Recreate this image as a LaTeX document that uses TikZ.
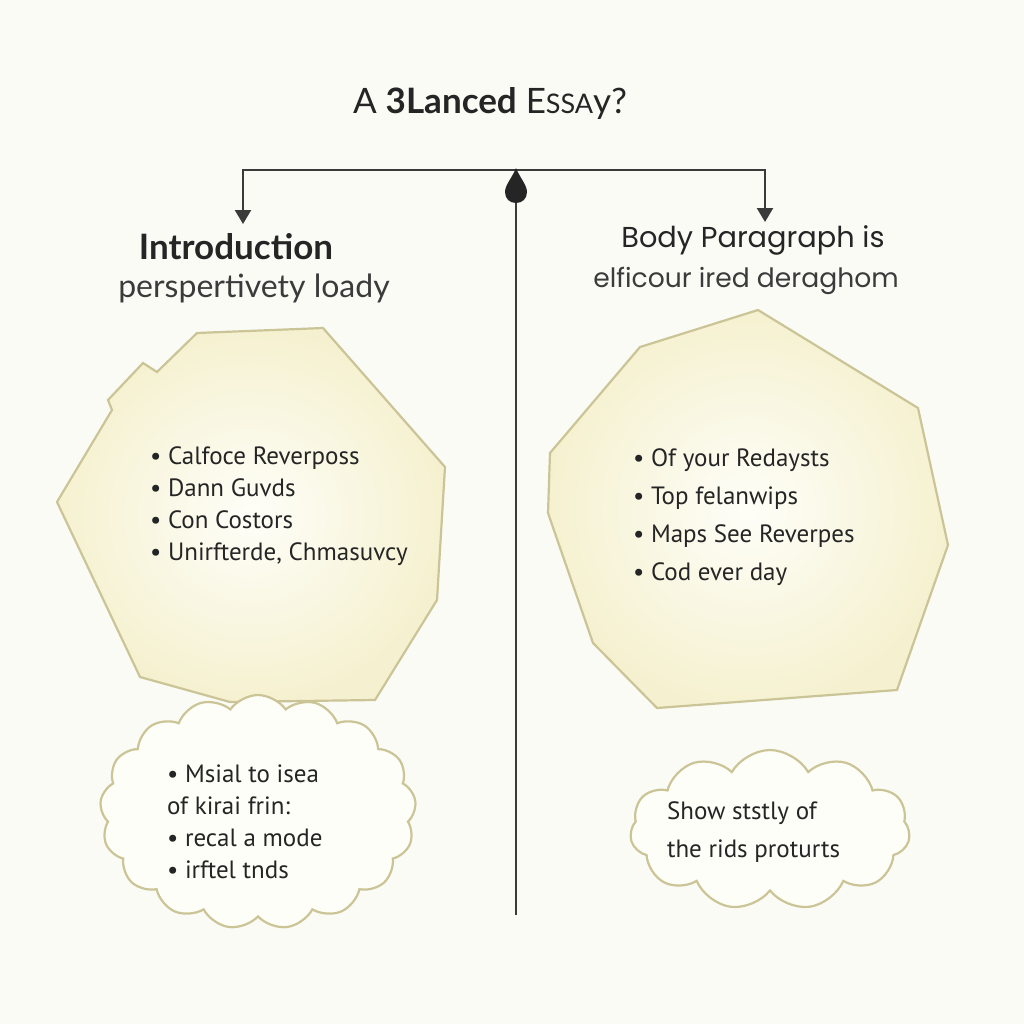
\documentclass[tikz,border=0pt]{standalone}
\usepackage{fontspec}
\setmainfont{Lato}
\newfontfamily\popf{Poppins}
\newfontfamily\handf{PT Sans}
\usetikzlibrary{arrows.meta,shapes.symbols}
\definecolor{bgc}{HTML}{FBFBF6}
\definecolor{inkc}{HTML}{252525}
\definecolor{linec}{HTML}{3A3A3A}
\definecolor{edgec}{HTML}{CBC496}
\definecolor{fillin}{HTML}{FEFEF8}
\definecolor{fillout}{HTML}{F5F1D0}
\tikzset{
  conn/.style={draw=linec, line width=1.2pt},
  arr/.style={conn, -{Triangle[width=8pt,length=7pt]}},
  poly/.style={draw=edgec, line width=1.1pt, inner color=fillin, outer color=fillout},
  hand/.style={font=\handf\fontsize{12.5}{16}\selectfont, text=inkc, align=left, anchor=west},
  cloudbox/.style={cloud, cloud ignores aspect, draw=edgec, line width=1.1pt, fill=fillin, inner sep=0pt},
  head/.style={text=inkc, anchor=center}
}
\begin{document}
\begin{tikzpicture}[x=0.5pt,y=-0.5pt]
\fill[bgc] (0,0) rectangle (1024,1024);
\useasboundingbox (0,0) rectangle (1024,1024);

% title
\node[head, font=\fontsize{17.5}{20}\selectfont] (title) at (490,103) {A \textbf{3Lanced} E{\fontsize{13.5}{15}\selectfont SSA}y?};

% connectors
\coordinate (J) at (516,170);
\coordinate (la) at (243,224);
\coordinate (ra) at (765,222);
\coordinate (bot) at (516,915);
\draw[arr] (J) -| (la);
\draw[arr] (J) -| (ra);
\draw[conn] (J) -- (bot);
\fill[inkc] (516,168) .. controls (512,178) and (505,185) .. (505,192) .. controls (505,199) and (510,203) .. (516,203) .. controls (522,203) and (527,199) .. (527,192) .. controls (527,185) and (520,178) .. (516,168) -- cycle;

% headings
\node[head, font=\bfseries\fontsize{17.5}{20}\selectfont] (intro) at (236,247) {Introduction};
\node[head, font=\fontsize{16}{19}\selectfont, text=inkc!90] (introsub) at (254,288) {perspertivety loady};
\node[head, font=\popf\fontsize{14.4}{17}\selectfont] (body) at (753,240) {Body Paragraph is};
\node[head, font=\popf\fontsize{13.3}{16}\selectfont, text=inkc!90] (bodysub) at (746,281) {elficour ired deraghom};

% left polygon
\draw[poly] (197,333) -- (323,328) -- (445,467) -- (437,600) -- (375,700) -- (230,702) -- (140,677) -- (57,502) -- (112,410) -- (108,400) -- (143,363) -- (157,372) -- cycle;
% right polygon
\draw[poly] (758,310) -- (918,408) -- (948,545) -- (897,690) -- (657,708) -- (593,643) -- (548,513) -- (550,453) -- (640,347) -- cycle;

% list texts
\node[hand] (llist) at (143,506) {%
\textbullet\ Calfoce Reverposs\\
\textbullet\ Dann Guvds\\
\textbullet\ Con Costors\\
\textbullet\ Unirfterde, Chmasuvcy};
\node[hand] (rlist) at (626,517) {%
\textbullet\ Of your Redaysts\\[3pt]
\textbullet\ Top felanwips\\[3pt]
\textbullet\ Maps See Reverpes\\[3pt]
\textbullet\ Cod ever day};

% clouds
\node[cloudbox, cloud puffs=17, cloud puff arc=110, minimum width=158pt, minimum height=117pt] (lcloud) at (258,812) {};
\node[cloudbox, cloud puffs=11, cloud puff arc=120, minimum width=140pt, minimum height=80pt] (rcloud) at (770,830) {};
\node[hand] (lctext) at (160,822) {%
\textbullet\ Msial to isea\\
of kirai frin:\\
\textbullet\ recal a mode\\
\textbullet\ irftel tnds};
\node[hand] (rctext) at (660,832) {Show ststly of\\[3pt] the rids proturts};
\end{tikzpicture}
\end{document}
